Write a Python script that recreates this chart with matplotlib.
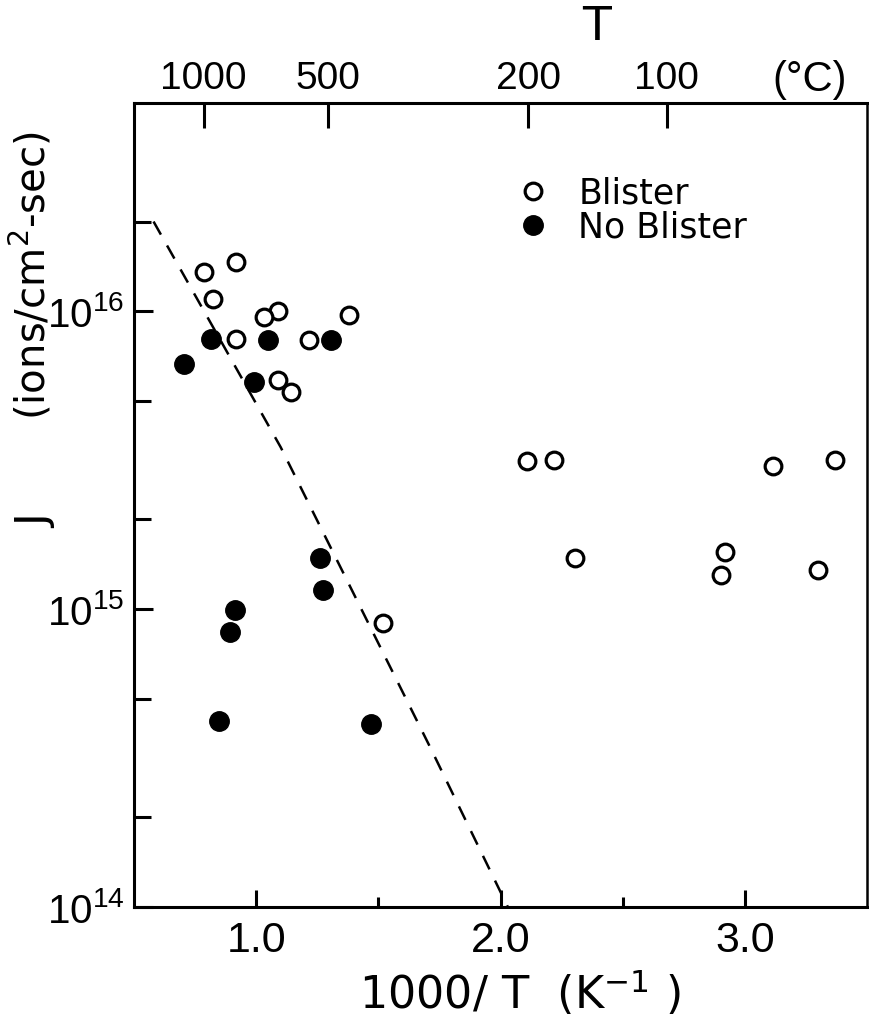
import matplotlib
matplotlib.use("Agg")
import matplotlib.pyplot as plt
from matplotlib.lines import Line2D

# ---------------- data ----------------
# open circles (Blister); partly hidden circles listed first so others draw over them
blister_x = [0.824, 1.090, 1.143, 2.904, 0.918, 0.788, 0.918, 1.033, 1.217, 1.380,
             1.090, 1.519, 2.107, 2.217, 3.116, 3.369, 2.303, 2.920, 3.300]
blister_J = [1.10e16, 1.00e16, 5.34e15, 1.30e15, 1.46e16, 1.35e16, 8.05e15, 9.55e15,
             7.98e15, 9.70e15, 5.86e15, 8.97e14, 3.15e15, 3.17e15, 3.03e15, 3.17e15,
             1.49e15, 1.55e15, 1.35e15]

# filled circles (No Blister)
noblister_x = [0.816, 1.049, 1.306, 0.706, 0.992, 1.261, 1.274, 0.914, 0.894, 0.849, 1.470]
noblister_J = [8.05e15, 7.98e15, 7.98e15, 6.64e15, 5.77e15, 1.49e15, 1.16e15, 9.93e14,
               8.38e14, 4.20e14, 4.13e14]

# dashed boundary
boundary_x = [0.58, 1.10, 1.715, 2.03]
boundary_J = [2.0e16, 3.5e15, 3.4e14, 1.0e14]

x_major = [1.0, 2.0, 3.0]
x_major_labels = ["1.0", "2.0", "3.0"]
x_minor = [1.5, 2.5]
y_major = [1e14, 1e15, 1e16]
y_major_labels = [r"$\mathregular{10^{14}}$", r"$\mathregular{10^{15}}$", r"$\mathregular{10^{16}}$"]
y_minor = [2e14, 5e14, 2e15, 5e15, 2e16]
top_celsius = [1000, 500, 200, 100]
top_labels = ["1000", "500", "200", "100"]

# ---------------- figure ----------------
W, H = 869, 1022
fig = plt.figure(figsize=(W / 100, H / 100), dpi=100)
L, R, T, B = 134, 867, 103, 907
ax = fig.add_axes([L / W, 1 - B / H, (R - L) / W, (B - T) / H])

num_font = ["Liberation Sans Narrow", "Liberation Sans", "DejaVu Sans"]
txt_font = ["DejaVu Sans"]

ax.set_yscale("log")
ax.set_xlim(0.5, 3.5)
ax.set_ylim(1e14, 5e16)

ax.plot(boundary_x, boundary_J, color="black", lw=1.8,
        linestyle=(0, (6, 5)), zorder=3)
ax.plot(blister_x, blister_J, linestyle="none", marker="o", ms=12,
        mfc="white", mec="black", mew=2.3, zorder=2)
ax.plot(noblister_x, noblister_J, linestyle="none", marker="o", ms=14,
        mfc="black", mec="black", mew=1, zorder=2)

for s in ax.spines.values():
    s.set_linewidth(2.2)
ax.spines["right"].set_linewidth(1.8)

ax.set_xticks(x_major)
ax.set_xticklabels(x_major_labels, fontsize=31, family=num_font)
ax.set_xticks(x_minor, minor=True)
ax.set_yticks(y_major)
ax.set_yticklabels(y_major_labels, fontsize=29, family=num_font)
ax.set_yticks(y_minor, minor=True)
ax.yaxis.set_minor_formatter(plt.NullFormatter())
ax.tick_params(axis="x", which="major", direction="in", length=12, width=2.2, pad=10)
ax.tick_params(axis="x", which="minor", direction="in", length=7, width=2.2)
ax.tick_params(axis="y", which="major", direction="in", length=14, width=2.2, pad=7)
ax.tick_params(axis="y", which="minor", direction="in", length=12, width=2.2)
ax.tick_params(top=False, right=False, which="both")

# top axis in degrees Celsius
axt = ax.twiny()
axt.set_xlim(ax.get_xlim())
axt.set_xticks([1000.0 / (c + 273.15) for c in top_celsius])
axt.set_xticklabels(top_labels, fontsize=28, family=num_font)
axt.set_xticks([], minor=True)
axt.tick_params(axis="x", direction="in", length=18, width=2.2, pad=4)
for s in axt.spines.values():
    s.set_visible(False)

fig.text(810 / W, 1 - 80 / H, "(°C)", fontsize=30, family=num_font,
         ha="center", va="center")
fig.text(597 / W, 1 - 28 / H, "T", fontsize=34, family=txt_font,
         ha="center", va="center")

# axis labels
ax.set_xlabel(r"1000/ T  (K$^{-1}$ )", fontsize=32, family=txt_font)
ax.xaxis.set_label_coords((520 - L) / (R - L), (B - 993) / (B - T))
ax.xaxis.label.set_va("center")
ax.set_ylabel(r"(ions/cm$^{2}$-sec)", fontsize=29, family=txt_font)
ax.yaxis.set_label_coords((31 - L) / (R - L), (B - 276) / (B - T))
ax.yaxis.label.set_va("center")
ax.text((36 - L) / (R - L), (B - 522) / (B - T), "J", transform=ax.transAxes,
        rotation=90, fontsize=31, family=txt_font, ha="center", va="center")

handles = [Line2D([], [], linestyle="none", marker="o", ms=12, mfc="white",
                  mec="black", mew=2.3),
           Line2D([], [], linestyle="none", marker="o", ms=14, mfc="black",
                  mec="black")]
ax.legend(handles, ["Blister", "No Blister"], loc="upper left",
          bbox_to_anchor=((516 - L) / (R - L), (B - 176) / (B - T)),
          frameon=False, prop={"family": txt_font, "size": 25},
          handlelength=1.0, handletextpad=0.8, labelspacing=0.0,
          borderpad=0, borderaxespad=0)

fig.savefig("out.png", dpi=100, facecolor="white")
